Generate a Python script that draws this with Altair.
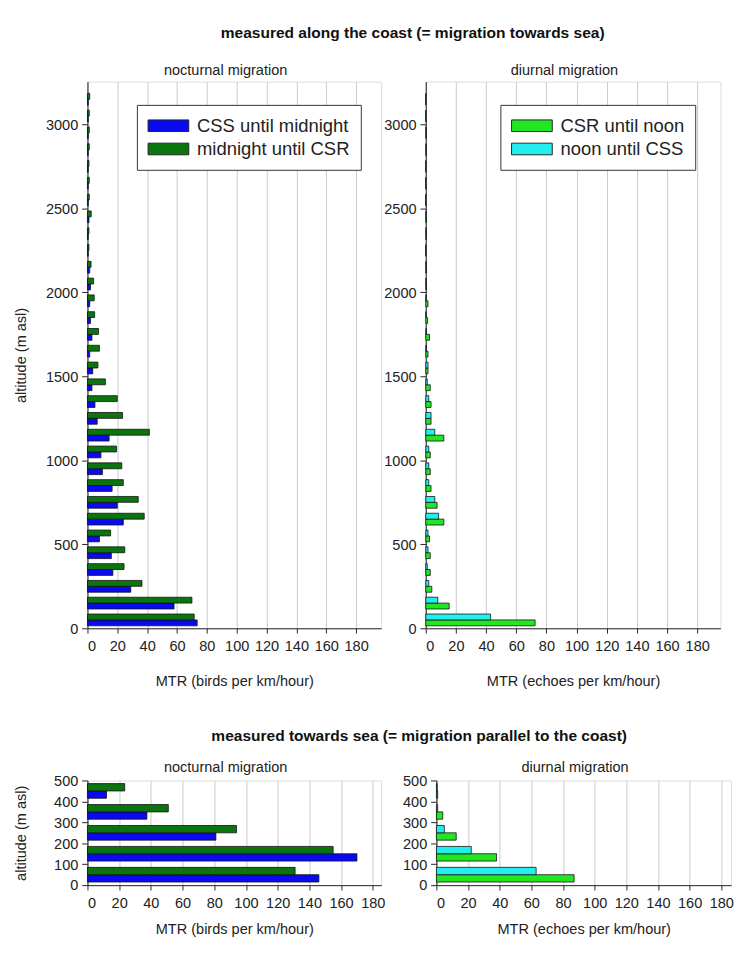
import altair as alt
import pandas as pd

FONT = "Liberation Sans"

# ---------------- data ----------------
# altitude bins (lower edge, 100 m bins)
coast_alt = list(range(0, 3200, 100))
# nocturnal migration, measured along the coast
coast_css_midnight = [73.5, 58, 29, 17, 16, 8, 24, 20, 16.5, 10, 9, 14.5, 6.5, 5, 3, 3.5,
                      1.5, 3, 2, 1.5, 2, 1.5, 0.5, 0.5, 1, 0.5, 0.5, 0.5, 0.5, 0.5, 0.5, 0.5]
coast_midnight_csr = [71.5, 70, 36.5, 24.5, 25, 15.5, 38, 34, 24, 23, 19.5, 41.5, 23.5, 20, 12, 7,
                      8, 7.4, 4.8, 4.5, 4.1, 2.4, 1, 1, 2.5, 1.2, 1.2, 1, 1.2, 1.2, 1.2, 1.5]
# diurnal migration, measured along the coast
coast_csr_noon = [72.5, 15.5, 4, 3, 3, 2.5, 12, 7.5, 3.5, 3, 3, 12, 3.5, 3.5, 3, 1.5,
                  1.5, 2.5, 1.2, 1.5, 0.5, 0.5, 0, 0.4, 0.4, 0, 0, 0, 0.4, 0.4, 0, 0]
coast_noon_css = [43, 8, 2, 1, 1.5, 1.5, 8.5, 6, 2, 2, 2, 6, 3.5, 2, 1, 1.5,
                  0.5, 0.5, 0.3, 0.3, 0.3, 0.3, 0, 0.3, 0.3, 0, 0, 0, 0.3, 0.3, 0, 0]

sea_alt = [0, 100, 200, 300, 400]
sea_css_midnight = [146, 170, 81, 37.5, 12]
sea_midnight_csr = [131, 155, 94, 51, 23.5]
sea_csr_noon = [87, 38, 12.5, 4, 0.8]
sea_noon_css = [63, 22, 5, 0.8, 0.5]

NOCT_NAMES = ["CSS until midnight", "midnight until CSR"]
NOCT_COLORS = ["#0a0af0", "#0a740f"]
DIUR_NAMES = ["CSR until noon", "noon until CSS"]
DIUR_COLORS = ["#22e622", "#22eeee"]

X_TICKS = list(range(0, 181, 20))
BIN = 100
# wide legend swatch (drawn to the right of the nominal symbol box)
SWATCH = "M-1,-0.6L3.2,-0.6L3.2,0.6L-1,0.6Z"


def frame(alts, lower, upper, names):
    rows = []
    for a, lo, up in zip(alts, lower, upper):
        rows.append({"series": names[0], "v": lo, "a0": a + 0.15 * BIN, "a1": a + 0.5 * BIN})
        rows.append({"series": names[1], "v": up, "a0": a + 0.5 * BIN, "a1": a + 0.85 * BIN})
    return pd.DataFrame(rows)


def panel(df, names, colors, title, xtitle, ytitle, ydom, yticks, xdom, w, h,
          legend_x=None, title_offset=4, xtitle_pad=21):
    if legend_x is None:
        legend = None
    else:
        legend = alt.Legend(
            orient="none", legendX=legend_x, legendY=24, title=None,
            symbolType=SWATCH, symbolSize=400,
            symbolStrokeColor="#222", symbolStrokeWidth=1,
            labelFontSize=19, labelFont=FONT, labelColor="#222", labelOffset=30,
            rowPadding=3, padding=11, strokeColor="#333", fillColor="white",
        )
    yaxis = alt.Axis(values=yticks, format="d", grid=False, domainColor="#222",
                     tickColor="#222", tickSize=6, labelFontSize=15, labelFont=FONT,
                     labelColor="#222", titleFontSize=15, titleFont=FONT,
                     titleFontWeight="normal", titleColor="#222", titlePadding=19,
                     labelPadding=4, minExtent=42, maxExtent=42)
    xaxis = alt.Axis(values=X_TICKS, grid=True, gridColor="#c8c8c8", gridWidth=1,
                     domainColor="#222", tickColor="#222", tickSize=5,
                     labelFontSize=15, labelFont=FONT, labelColor="#222",
                     titleFontSize=15, titleFont=FONT, titleFontWeight="normal",
                     titleColor="#222", titlePadding=xtitle_pad, labelPadding=6)
    return alt.Chart(df).mark_bar(stroke="#111", strokeWidth=0.8).encode(
        x=alt.X("v:Q", title=xtitle, scale=alt.Scale(domain=xdom, nice=False), axis=xaxis),
        x2=alt.datum(0),
        y=alt.Y("a0:Q", title=ytitle, scale=alt.Scale(domain=ydom, nice=False), axis=yaxis),
        y2="a1:Q",
        color=alt.Color("series:N", scale=alt.Scale(domain=names, range=colors), legend=legend),
    ).properties(
        width=w, height=h,
        title=alt.TitleParams(title, fontSize=15, font=FONT, fontWeight="normal",
                              color="#222", offset=title_offset, dx=-9),
    )


tl = panel(frame(coast_alt, coast_css_midnight, coast_midnight_csr, NOCT_NAMES),
           NOCT_NAMES, NOCT_COLORS, "nocturnal migration", "MTR (birds per km/hour)",
           "altitude (m asl)", [0, 3255], list(range(0, 3001, 500)), [0, 196.8],
           303, 564, legend_x=51)
tr = panel(frame(coast_alt, coast_csr_noon, coast_noon_css, DIUR_NAMES),
           DIUR_NAMES, DIUR_COLORS, "diurnal migration", "MTR (echoes per km/hour)",
           None, [0, 3255], list(range(0, 3001, 500)), [0, 195.4],
           304, 564, legend_x=77)
bl = panel(frame(sea_alt, sea_css_midnight, sea_midnight_csr, NOCT_NAMES),
           NOCT_NAMES, NOCT_COLORS, "nocturnal migration", "MTR (birds per km/hour)",
           "altitude (m asl)", [0, 500], list(range(0, 501, 100)), [0, 185.3],
           303, 108, title_offset=-1, xtitle_pad=12)
br = panel(frame(sea_alt, sea_csr_noon, sea_noon_css, DIUR_NAMES),
           DIUR_NAMES, DIUR_COLORS, "diurnal migration", "MTR (echoes per km/hour)",
           None, [0, 500], list(range(0, 501, 100)), [0, 186.2],
           304, 108, title_offset=-1, xtitle_pad=12)


def row(a, b, title, offset, spacing):
    return alt.hconcat(a, b, spacing=spacing).resolve_scale(color="independent").resolve_legend(
        color="independent").properties(
        title=alt.TitleParams(title, fontSize=16, font=FONT, fontWeight="bold",
                              color="#111", anchor="middle", offset=offset, dx=47))


top = row(tl, tr, "measured along the coast (= migration towards sea)", 23, 1)
bottom = row(bl, br, "measured towards sea (= migration parallel to the coast)", 16, 9)

chart = alt.vconcat(top, bottom, spacing=40).resolve_scale(color="independent").resolve_legend(
    color="independent").configure_view(stroke=None).configure(background="white").properties(
    padding={"left": 5, "top": 2, "right": 0, "bottom": 0})

chart.save("out.html", embed_options={"renderer": "svg", "actions": False})
